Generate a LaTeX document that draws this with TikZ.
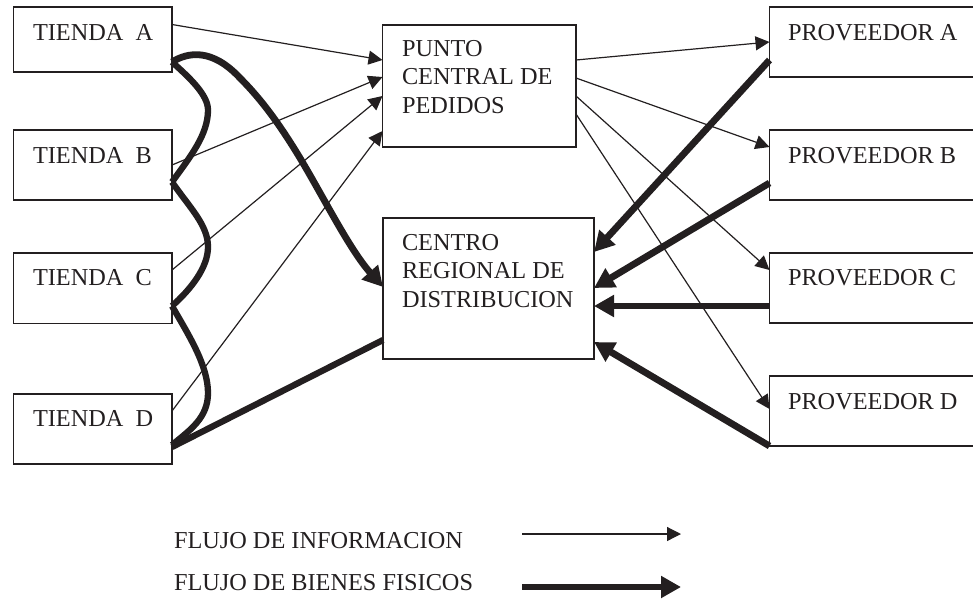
\documentclass[tikz,border=0pt]{standalone}
\usepackage{fontspec}
\setmainfont{Liberation Serif}
\usetikzlibrary{arrows.meta}
\definecolor{ink}{HTML}{231F20}
\tikzset{
  x=1pt,y=-1pt,
  boxnode/.style={draw=ink,line width=1.3pt,inner sep=0pt,outer sep=0pt,anchor=north west},
  lbl/.style={anchor=base west,inner sep=0pt,outer sep=0pt,text=ink,font=\fontsize{24.3}{28}\selectfont},
  infoflow/.style={draw=ink,line width=1.2pt,-{Triangle[length=14pt,width=14pt,fill=ink]}},
  goodsflow/.style={draw=ink,line width=6.8pt,-{Triangle[length=20pt,width=21pt,fill=ink]}},
  goodsline/.style={draw=ink,line width=6.3pt,line join=miter},
}
\begin{document}
\begin{tikzpicture}
\useasboundingbox (0,0) rectangle (973,598);
% boxes
\node[boxnode,minimum width=158.5pt,minimum height=65pt] (tA) at (13.5,7) {};
\node[boxnode,minimum width=158.5pt,minimum height=70pt] (tB) at (13.5,130) {};
\node[boxnode,minimum width=158.5pt,minimum height=70.5pt] (tC) at (13.5,253) {};
\node[boxnode,minimum width=158.5pt,minimum height=70pt] (tD) at (13.5,394) {};
\node[boxnode,minimum width=193.5pt,minimum height=122pt] (pc) at (382.5,25) {};
\node[boxnode,minimum width=211pt,minimum height=141pt] (cr) at (383,218) {};
\node[boxnode,minimum width=220pt,minimum height=70pt] (pA) at (769.5,7) {};
\node[boxnode,minimum width=220pt,minimum height=70pt] (pB) at (769.5,130) {};
\node[boxnode,minimum width=220pt,minimum height=70pt] (pC) at (769.5,253) {};
\node[boxnode,minimum width=220pt,minimum height=70pt] (pD) at (769.5,376) {};
% labels
\node[lbl] (ltA) at (33,40) {TIENDA\ \ A};
\node[lbl] (ltB) at (33,163) {TIENDA\ \ B};
\node[lbl] (ltC) at (33,285) {TIENDA\ \ C};
\node[lbl] (ltD) at (33,426) {TIENDA\ \ D};
\node[lbl] (lpA) at (788,40) {PROVEEDOR A};
\node[lbl] (lpB) at (788,163) {PROVEEDOR B};
\node[lbl] (lpC) at (788,285) {PROVEEDOR C};
\node[lbl] (lpD) at (788,409) {PROVEEDOR D};
\node[lbl] (lp1) at (402,56) {PUNTO};
\node[lbl] (lp2) at (402,84) {CENTRAL DE};
\node[lbl] (lp3) at (402,113) {PEDIDOS};
\node[lbl] (lc1) at (402,250) {CENTRO};
\node[lbl] (lc2) at (402,278) {REGIONAL DE};
\node[lbl] (lc3) at (402,307) {DISTRIBUCION};
\node[lbl] (lg1) at (174,548) {FLUJO DE INFORMACION};
\node[lbl] (lg2) at (174,590) {FLUJO DE BIENES FISICOS};
% information flows
\draw[infoflow] ([yshift=-17.5pt]tA.north east) -- ([yshift=-35pt]pc.north west);
\draw[infoflow] ([yshift=-35pt]tB.north east) -- ([yshift=-52pt]pc.north west);
\draw[infoflow] ([yshift=-17pt]tC.north east) -- ([yshift=-71pt]pc.north west);
\draw[infoflow] ([yshift=-17pt]tD.north east) -- ([yshift=-106pt]pc.north west);
\draw[infoflow] ([yshift=-35pt]pc.north east) -- ([yshift=-35pt]pA.north west);
\draw[infoflow] ([yshift=-53pt]pc.north east) -- ([yshift=-17pt]pB.north west);
\draw[infoflow] ([yshift=-71pt]pc.north east) -- ([yshift=-17pt]pC.north west);
\draw[infoflow] ([yshift=-89pt]pc.north east) -- ([yshift=-33pt]pD.north west);
% goods flows, left
\coordinate (ga) at ([yshift=-55pt]tA.north east);
\coordinate (gb) at ([yshift=-52pt]tB.north east);
\coordinate (gc) at ([yshift=-53pt]tC.north east);
\coordinate (gd) at ([yshift=-51pt]tD.north east);
\draw[goodsline] (ga) .. controls +(18,16) and (208,95) .. (208,110) .. controls (208,135) and (190,157) .. (gb);
\draw[goodsline] (gb) .. controls +(18,26) and (208,225) .. (208,247) .. controls (208,268) and (190,290) .. (gc);
\draw[goodsline] (gc) .. controls +(16,28) and (208,365) .. (208,393) .. controls (208,418) and (190,430) .. (gd);
\draw[goodsflow] (ga) .. controls +(16,-10) and (212,48) .. (240,78) .. controls (262,100) and (280,125) .. (300,158) .. controls (325,200) and (350,250) .. ([yshift=-69pt]cr.north west);
\draw[goodsline] ([yshift=-53pt]tD.north east) -- ([yshift=-122pt]cr.north west);
% goods flows, right
\draw[goodsflow] ([yshift=-53pt]pA.north west) -- ([yshift=-34pt]cr.north east);
\draw[goodsflow] ([yshift=-53pt]pB.north west) -- ([yshift=-70pt]cr.north east);
\draw[goodsflow] ([yshift=-53pt]pC.north west) -- ([yshift=-88pt]cr.north east);
\draw[goodsflow] ([yshift=-70pt]pD.north west) -- ([yshift=-124pt]cr.north east);
% legend
\coordinate (k1a) at (522,534);
\coordinate (k1b) at (681,534);
\coordinate (k2a) at (522,587);
\coordinate (k2b) at (681,587);
\draw[infoflow] (k1a) -- (k1b);
\draw[goodsflow] (k2a) -- (k2b);
\end{tikzpicture}
\end{document}
